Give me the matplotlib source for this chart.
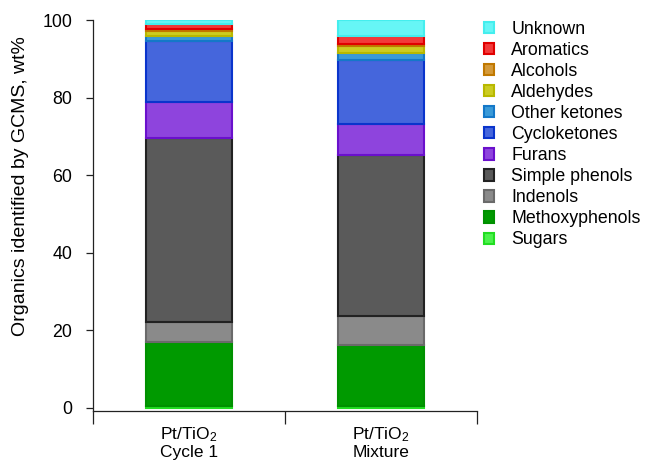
import matplotlib
matplotlib.use('Agg')
import matplotlib.pyplot as plt
import numpy as np

plt.rcParams['font.family'] = ['Liberation Sans', 'DejaVu Sans']
plt.rcParams['mathtext.default'] = 'regular'

samples = ['Pt/TiO$_2$\nCycle 1', 'Pt/TiO$_2$\nMixture']

# compound classes, bottom of the stack first
classes = ['Sugars', 'Methoxyphenols', 'Indenols', 'Simple phenols', 'Furans',
           'Cycloketones', 'Other ketones', 'Aldehydes', 'Alcohols', 'Aromatics', 'Unknown']

sugars = [0.5, 0.5]
methoxyphenols = [16.4, 15.8]
indenols = [5.2, 7.5]
simple_phenols = [47.5, 41.4]
furans = [9.3, 7.9]
cycloketones = [15.8, 16.7]
other_ketones = [1.3, 1.6]
aldehydes = [1.1, 2.0]
alcohols = [0.6, 0.5]
aromatics = [1.4, 2.1]
unknown = [0.9, 4.0]

values = [sugars, methoxyphenols, indenols, simple_phenols, furans, cycloketones,
          other_ketones, aldehydes, alcohols, aromatics, unknown]

fills = ['#4cf24c', '#009a00', '#8a8a8a', '#5a5a5a', '#8e44dd', '#4566dc',
         '#3a9ad8', '#cccc22', '#d49a3a', '#f23a3a', '#66f6f6']
edges = ['#22dd22', '#009000', '#6a6a6a', '#222222', '#6a10cc', '#0a34cc',
         '#1478c8', '#b8b800', '#c07800', '#e00000', '#44eeee']

fig = plt.figure(figsize=(6.46, 4.61), dpi=100)
ax = fig.add_axes([0.144, 0.1085, 0.594, 0.848])

x = np.arange(len(samples))
bottom = np.zeros(len(samples))
handles = []
for name, vals, fc, ec in zip(classes, values, fills, edges):
    vals = np.array(vals, dtype=float)
    bars = ax.bar(x, vals, width=0.45, bottom=bottom, color=fc, edgecolor=ec,
                  linewidth=1.5, label=name)
    handles.append(bars)
    bottom += vals

ax.set_xlim(-0.5, 1.5)
ax.set_ylim(-0.8, 100)

ax.spines['top'].set_visible(False)
ax.spines['right'].set_visible(False)
for sp in ['left', 'bottom']:
    ax.spines[sp].set_linewidth(0.9)
    ax.spines[sp].set_color('#222222')

ax.set_yticks([0, 20, 40, 60, 80, 100])
ax.tick_params(axis='y', direction='out', length=5, width=0.9, pad=10,
               labelsize=12.8, color='#222222')

# category separators as major ticks, sample names as minor ticks
ax.set_xticks([-0.5, 0.5, 1.5])
ax.set_xticklabels([])
ax.tick_params(axis='x', which='major', direction='out', length=9, width=0.9, color='#222222')
ax.set_xticks(x, minor=True)
ax.set_xticklabels(samples, minor=True, linespacing=1.15)
ax.tick_params(axis='x', which='minor', length=0, pad=10, labelsize=12.5)

fig.text(0.031, 0.597, 'Organics identified by GCMS, wt%', rotation=90,
         ha='center', va='center', fontsize=14)

leg = fig.legend(handles[::-1], classes[::-1], loc='upper left',
                 bbox_to_anchor=(0.724, 0.99), frameon=False, fontsize=12.8,
                 handlelength=0.6, handleheight=0.6, handletextpad=0.95,
                 labelspacing=0.23)

fig.savefig('out.png', dpi=100)
